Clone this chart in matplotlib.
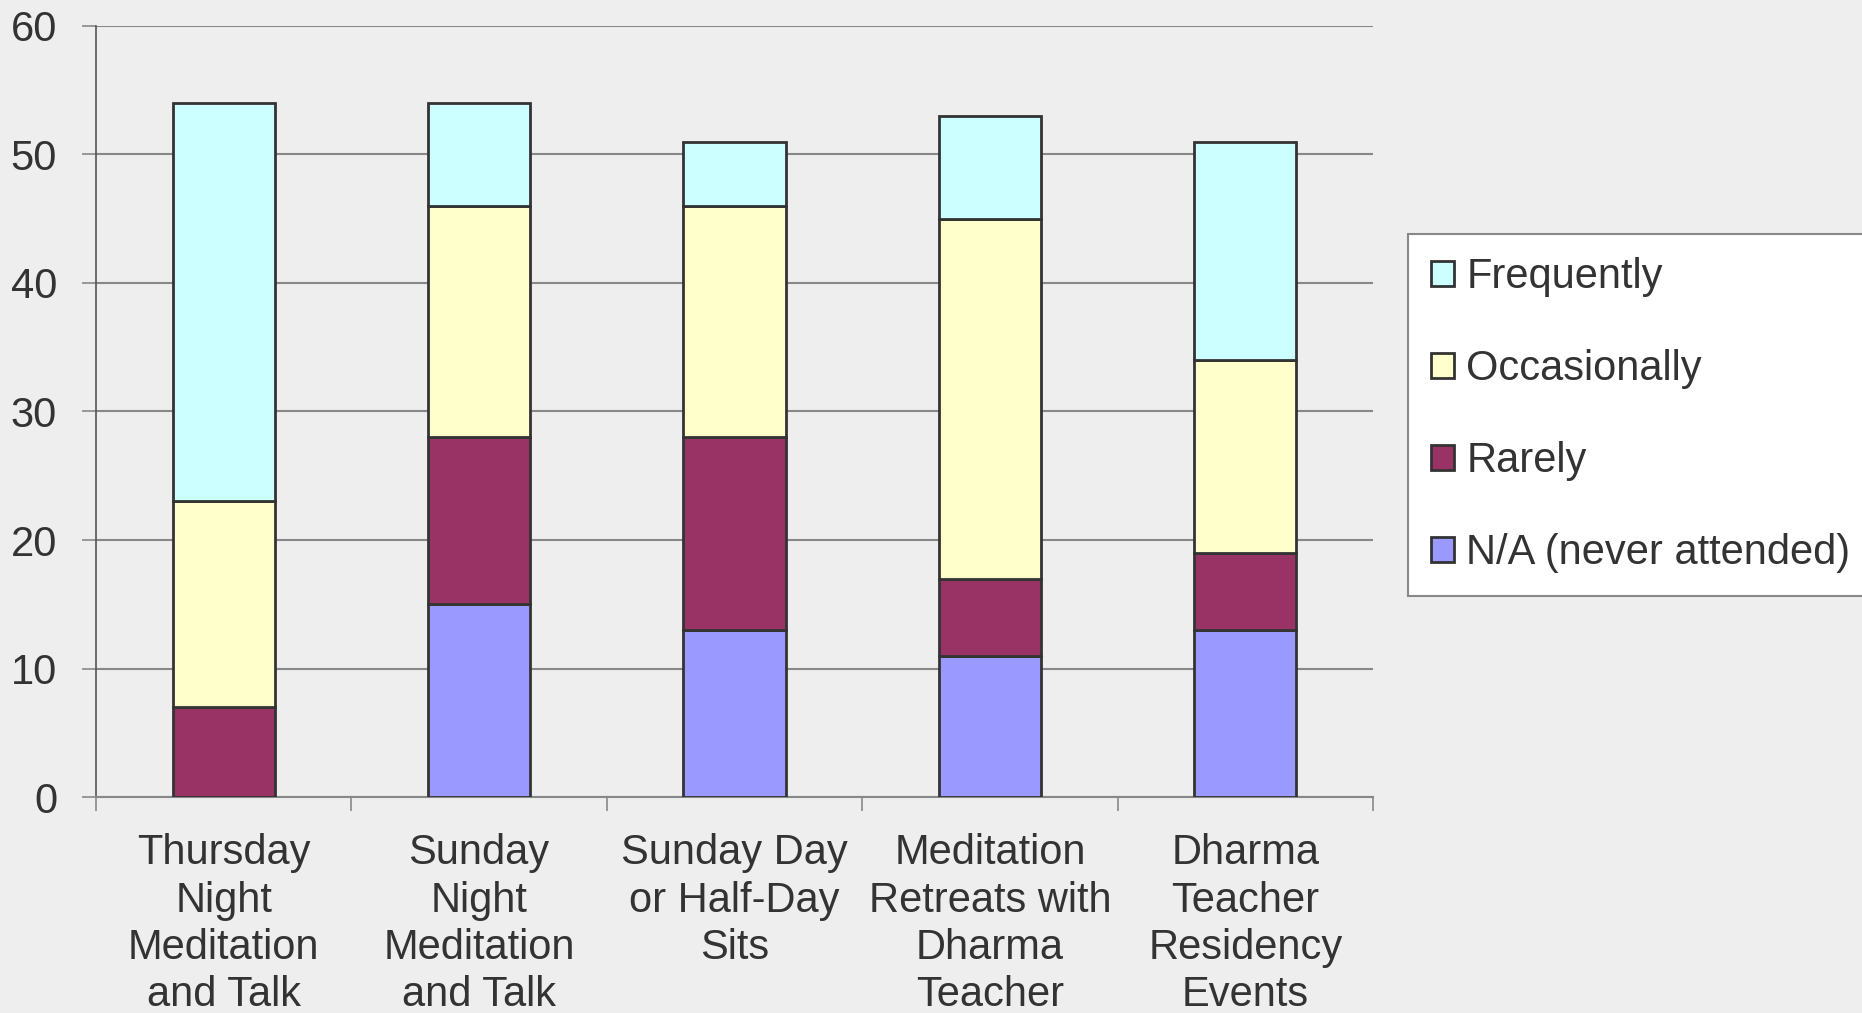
import matplotlib
matplotlib.use("Agg")
import matplotlib.pyplot as plt
from matplotlib.ticker import FixedLocator
import numpy as np

categories = [
    "Thursday\nNight\nMeditation\nand Talk",
    "Sunday\nNight\nMeditation\nand Talk",
    "Sunday Day\nor Half-Day\nSits",
    "Meditation\nRetreats with\nDharma\nTeacher",
    "Dharma\nTeacher\nResidency\nEvents",
]
na_never = [0, 15, 13, 11, 13]
rarely = [7, 13, 15, 6, 6]
occasionally = [16, 18, 18, 28, 15]
frequently = [31, 8, 5, 8, 17]
y_ticks = [0, 10, 20, 30, 40, 50, 60]

series = [
    ("N/A (never attended)", na_never, "#9999FF"),
    ("Rarely", rarely, "#993366"),
    ("Occasionally", occasionally, "#FFFFCC"),
    ("Frequently", frequently, "#CCFFFF"),
]

plt.rcParams["font.family"] = ["Liberation Sans Narrow", "Liberation Sans", "DejaVu Sans"]
txt = "#333333"
bg = "#EEEEEE"

fig = plt.figure(figsize=(18.62, 10.13), dpi=100, facecolor=bg)
ax = fig.add_axes([96 / 1862, 216 / 1013, 1277 / 1862, 771 / 1013])
ax.set_facecolor(bg)

x = np.arange(len(categories))
bottom = np.zeros(len(categories))
handles = {}
for name, vals, col in series:
    vals = np.array(vals, dtype=float)
    h = ax.bar(x, vals, width=0.4, bottom=bottom, color=col,
               edgecolor="#333333", linewidth=2.0, zorder=3)
    handles[name] = h
    bottom += vals

ax.set_xlim(-0.5, len(categories) - 0.5)
ax.set_ylim(0, 60)
ax.set_yticks(y_ticks)
ax.yaxis.grid(True, color="#888888", linewidth=1.5, zorder=0)
ax.tick_params(axis="y", length=10, width=1.2, color="#888888",
               labelsize=30, labelcolor=txt, pad=18)

# category names centred under bars, tick marks on the boundaries
ax.set_xticks(x)
ax.set_xticklabels(categories, fontsize=30, color=txt, linespacing=1.24)
ax.xaxis.set_minor_locator(FixedLocator(np.arange(-0.5, len(categories), 1.0)))
ax.tick_params(axis="x", which="major", length=0, pad=26)
ax.tick_params(axis="x", which="minor", length=10, width=1.2, color="#888888")

for s in ["top", "right"]:
    ax.spines[s].set_visible(False)
ax.spines["left"].set_color("#555555")
ax.spines["left"].set_linewidth(1.2)
ax.spines["bottom"].set_color("#888888")
ax.spines["bottom"].set_linewidth(1.5)

order = ["Frequently", "Occasionally", "Rarely", "N/A (never attended)"]
leg = fig.legend([handles[n] for n in order], order,
                 loc="upper left", bbox_to_anchor=(1408 / 1862, 1 - 234 / 1013),
                 fontsize=30, frameon=True, fancybox=False, framealpha=1,
                 facecolor="white", edgecolor="#888888",
                 handlelength=0.55, handleheight=0.55, handletextpad=0.3,
                 labelspacing=1.25, borderpad=0.55, borderaxespad=0)
leg.get_frame().set_linewidth(1.5)
for t in leg.get_texts():
    t.set_color(txt)

fig.savefig("out.png", dpi=100, facecolor=bg)
